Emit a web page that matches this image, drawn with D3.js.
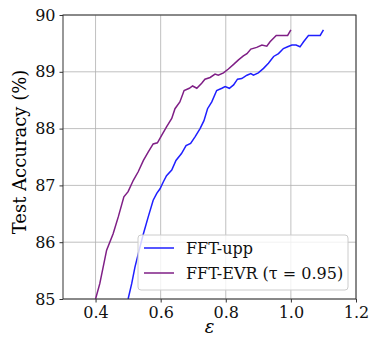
<!DOCTYPE html>
<html>
<head>
<meta charset="utf-8">
<script src="https://cdn.jsdelivr.net/npm/d3@7"></script>
<style>
  body { margin: 0; background: #fff; }
  text { font-family: "DejaVu Serif", serif; }
</style>
</head>
<body>
<div class="chart"></div>
<script>
// FFT-upp
var uppEps = [0.5, 0.511, 0.521, 0.534, 0.547, 0.562, 0.577, 0.588, 0.598, 0.608, 0.618, 0.634, 0.647, 0.664, 0.678, 0.692, 0.706, 0.721, 0.733, 0.744, 0.757, 0.772, 0.788, 0.798, 0.811, 0.824, 0.836, 0.849, 0.865, 0.877, 0.885, 0.9, 0.916, 0.931, 0.947, 0.962, 0.977, 0.99, 1.003, 1.016, 1.028, 1.039, 1.054, 1.074, 1.09, 1.1];
var uppAcc = [85.0, 85.27, 85.56, 85.86, 86.15, 86.45, 86.74, 86.86, 86.94, 87.06, 87.17, 87.27, 87.44, 87.56, 87.70, 87.74, 87.86, 88.0, 88.14, 88.35, 88.47, 88.67, 88.71, 88.74, 88.71, 88.77, 88.87, 88.88, 88.94, 88.97, 88.94, 88.98, 89.06, 89.15, 89.27, 89.32, 89.41, 89.44, 89.47, 89.47, 89.44, 89.53, 89.64, 89.64, 89.64, 89.74];
// FFT-EVR (tau = 0.95)
var evrEps = [0.4, 0.413, 0.434, 0.454, 0.47, 0.487, 0.5, 0.516, 0.531, 0.547, 0.562, 0.577, 0.59, 0.603, 0.618, 0.634, 0.644, 0.659, 0.672, 0.688, 0.698, 0.711, 0.726, 0.736, 0.752, 0.767, 0.777, 0.793, 0.808, 0.824, 0.839, 0.854, 0.865, 0.877, 0.895, 0.911, 0.926, 0.936, 0.955, 0.972, 0.99, 1.0];
var evrAcc = [85.0, 85.27, 85.86, 86.15, 86.45, 86.80, 86.89, 87.09, 87.24, 87.44, 87.59, 87.73, 87.75, 87.88, 88.03, 88.18, 88.35, 88.47, 88.67, 88.71, 88.75, 88.71, 88.80, 88.87, 88.90, 88.96, 88.94, 88.98, 89.05, 89.13, 89.21, 89.28, 89.32, 89.40, 89.43, 89.47, 89.45, 89.53, 89.64, 89.64, 89.64, 89.74];

var xTicks = [0.4, 0.6, 0.8, 1.0, 1.2];
var yTicks = [85, 86, 87, 88, 89, 90];
var seriesNames = ["FFT-upp", "FFT-EVR (\u03c4 = 0.95)"];
var seriesColors = ["#1f1fff", "#7f1f86"];

var width = 369, height = 339;
var margin = { top: 15, left: 63, right: 13, bottom: 40 };

var svg = d3.select(".chart").append("svg").attr("width", width).attr("height", height);

var x = d3.scaleLinear().domain([0.3, 1.2]).range([margin.left, width - margin.right]);
var y = d3.scaleLinear().domain([85, 90]).range([height - margin.bottom, margin.top]);

// grid
var grid = svg.append("g").attr("stroke", "#b0b0b0").attr("stroke-width", 0.8);
grid.selectAll(".gx").data(xTicks).enter().append("line")
  .attr("x1", d => x(d)).attr("x2", d => x(d))
  .attr("y1", y(85)).attr("y2", y(90));
grid.selectAll(".gy").data(yTicks).enter().append("line")
  .attr("x1", x(0.3)).attr("x2", x(1.2))
  .attr("y1", d => y(d)).attr("y2", d => y(d));

// lines
var series = [
  uppEps.map((e, i) => [e, uppAcc[i]]),
  evrEps.map((e, i) => [e, evrAcc[i]])
];
var line = d3.line().x(d => x(d[0])).y(d => y(d[1]));
svg.append("defs").append("clipPath").attr("id", "clip")
  .append("rect").attr("x", x(0.3)).attr("y", y(90) - 2)
  .attr("width", x(1.2) - x(0.3)).attr("height", y(85) - y(90) + 2);
svg.append("g").attr("clip-path", "url(#clip)")
  .selectAll("path").data(series).enter().append("path")
  .attr("d", line)
  .attr("fill", "none")
  .attr("stroke", (d, i) => seriesColors[i])
  .attr("stroke-width", 1.5);

// axes
var xAxis = svg.append("g").attr("transform", "translate(0," + y(85) + ")")
  .call(d3.axisBottom(x).tickValues(xTicks).tickFormat(d3.format(".1f")).tickSize(3.5).tickPadding(4));
var yAxis = svg.append("g").attr("transform", "translate(" + x(0.3) + ",0)")
  .call(d3.axisLeft(y).tickValues(yTicks).tickFormat(d3.format("d")).tickSize(3.5).tickPadding(4));
[xAxis, yAxis].forEach(a => {
  a.select(".domain").remove();
  a.selectAll("text").style("font-size", "16px").attr("fill", "#111");
  a.selectAll("line").attr("stroke", "#333");
});

// frame
svg.append("rect")
  .attr("x", x(0.3)).attr("y", y(90))
  .attr("width", x(1.2) - x(0.3)).attr("height", y(85) - y(90))
  .attr("fill", "none").attr("stroke", "#333").attr("stroke-width", 1);

// axis labels
svg.append("text").attr("x", x(0.75)).attr("y", 333)
  .attr("text-anchor", "middle").style("font-size", "18px").style("font-style", "italic")
  .text("\u03b5");
svg.append("text")
  .attr("transform", "translate(26,152) rotate(-90)")
  .attr("text-anchor", "middle").style("font-size", "18px")
  .text("Test Accuracy (%)");

// legend
var lg = svg.append("g");
lg.append("rect").attr("x", 138).attr("y", 235).attr("width", 210).attr("height", 55)
  .attr("rx", 3).attr("fill", "rgba(255,255,255,0.8)").attr("stroke", "#ccc").attr("stroke-width", 1);
seriesNames.forEach((n, i) => {
  var yy = 248 + i * 25;
  lg.append("line").attr("x1", 144).attr("x2", 174).attr("y1", yy).attr("y2", yy)
    .attr("stroke", seriesColors[i]).attr("stroke-width", 1.5);
  lg.append("text").attr("x", 186).attr("y", yy).attr("dy", "0.35em")
    .style("font-size", "16px").attr("fill", "#111").text(n);
});
</script>
</body>
</html>
